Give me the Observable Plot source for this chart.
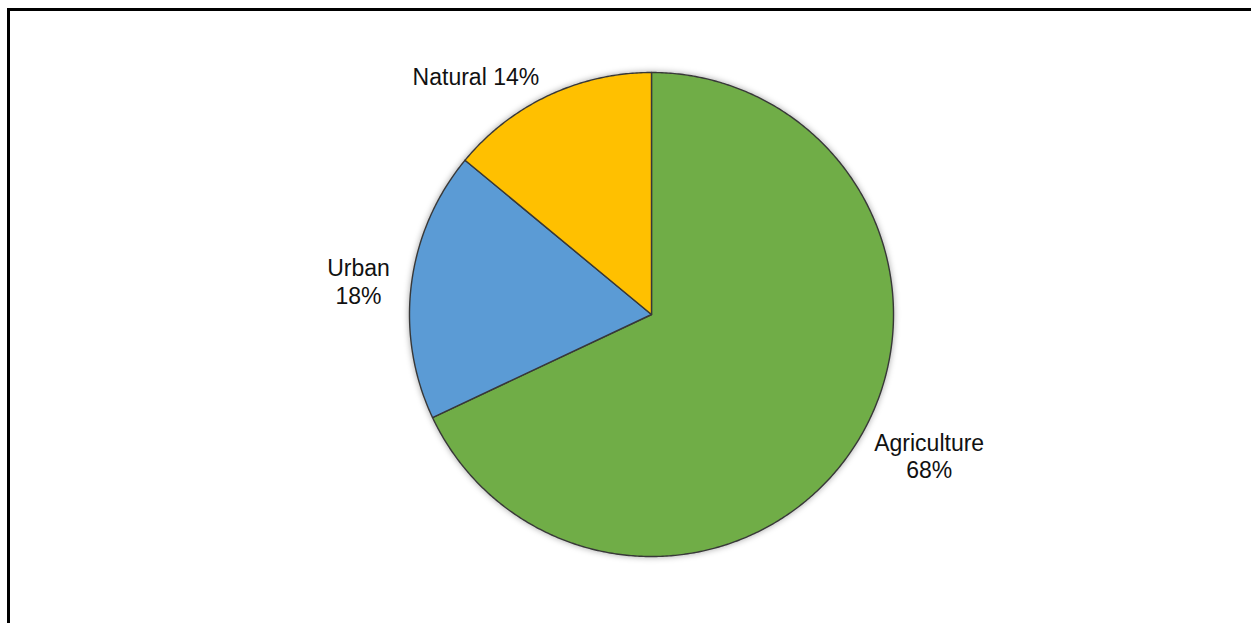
<!DOCTYPE html>
<html>
<head>
<meta charset="utf-8">
<script src="https://cdn.jsdelivr.net/npm/d3@7"></script>
<script src="https://cdn.jsdelivr.net/npm/@observablehq/plot@0.6"></script>
<style>
  html, body { margin: 0; padding: 0; background: #fff; }
  #wrap { position: relative; width: 1251px; height: 623px; overflow: hidden; }
  #frame { position: absolute; left: 7px; top: 8px; width: 1300px; height: 700px;
           border-top: 3px solid #000; border-left: 3px solid #000; box-sizing: border-box; }
  #chart { position: absolute; left: 0; top: 0; }
</style>
</head>
<body>
<div id="wrap"><div id="frame"></div><div id="chart"></div></div>
<script>
const categories = ["Agriculture", "Urban", "Natural"];
const shares = [68, 18, 14];
const labels = ["Agriculture\n68%", "Urban\n18%", "Natural 14%"];
const colors = ["#70AD47", "#5B9BD5", "#FFC000"];

const FONT_SIZE = 23;
const FONT = "Liberation Sans, Arial, sans-serif";
const RADIUS_PX = 242;

// Build slices clockwise from 12 o'clock
const pie = d3.pie().sort(null).value(d => d)(shares);
const slices = pie.map((p, i) => {
  const a0 = p.startAngle, a1 = p.endAngle;
  const n = Math.max(2, Math.ceil((a1 - a0) / (Math.PI / 360)));
  const ring = [[0, 0]];
  for (let k = 0; k <= n; k++) {
    const a = a0 + (a1 - a0) * k / n;
    ring.push([Math.sin(a), Math.cos(a)]);
  }
  ring.push([0, 0]);
  return {
    type: "Feature",
    properties: {category: categories[i], label: labels[i], color: colors[i], mid: (a0 + a1) / 2},
    geometry: {type: "Polygon", coordinates: [ring]}
  };
});

// Measure label widths so multi-line labels can be centred outside the pie
const ctx = document.createElement("canvas").getContext("2d");
ctx.font = `${FONT_SIZE}px ${FONT}`;
const labelR = 1.09;
const labelData = slices.map(s => {
  const m = s.properties.mid;
  let x = Math.sin(m) * labelR, y = Math.cos(m) * labelR;
  const w = d3.max(s.properties.label.split("\n"), t => ctx.measureText(t).width);
  const half = w / 2 / RADIUS_PX;
  if (x > 0.05) x += half; else if (x < -0.05) x -= half;
  return {x, y, label: s.properties.label};
});

const plot = Plot.plot({
  width: 1251,
  height: 623,
  marginTop: 23.6,
  marginBottom: 18.6,
  marginLeft: 324.3,
  marginRight: 273.3,
  projection: {
    type: "reflect-y",
    domain: {type: "Polygon", coordinates: [[[-1.35, -1.2], [1.35, -1.2], [1.35, 1.2], [-1.35, 1.2], [-1.35, -1.2]]]}
  },
  style: {fontFamily: FONT, background: "transparent"},
  marks: [
    Plot.geo(slices, {fill: d => d.properties.color, stroke: "#383838", strokeWidth: 1.4}),
    Plot.text(labelData, {
      x: "x", y: "y", text: "label", textAnchor: "middle", lineAnchor: "middle",
      fontSize: FONT_SIZE, fill: "#111", lineHeight: 1.2
    })
  ]
});
const g = plot.querySelector('g[aria-label="geo"]');
if (g) g.style.filter = "drop-shadow(0px 0px 3px rgba(0,0,0,0.35))";
document.getElementById("chart").appendChild(plot);
</script>
</body>
</html>
